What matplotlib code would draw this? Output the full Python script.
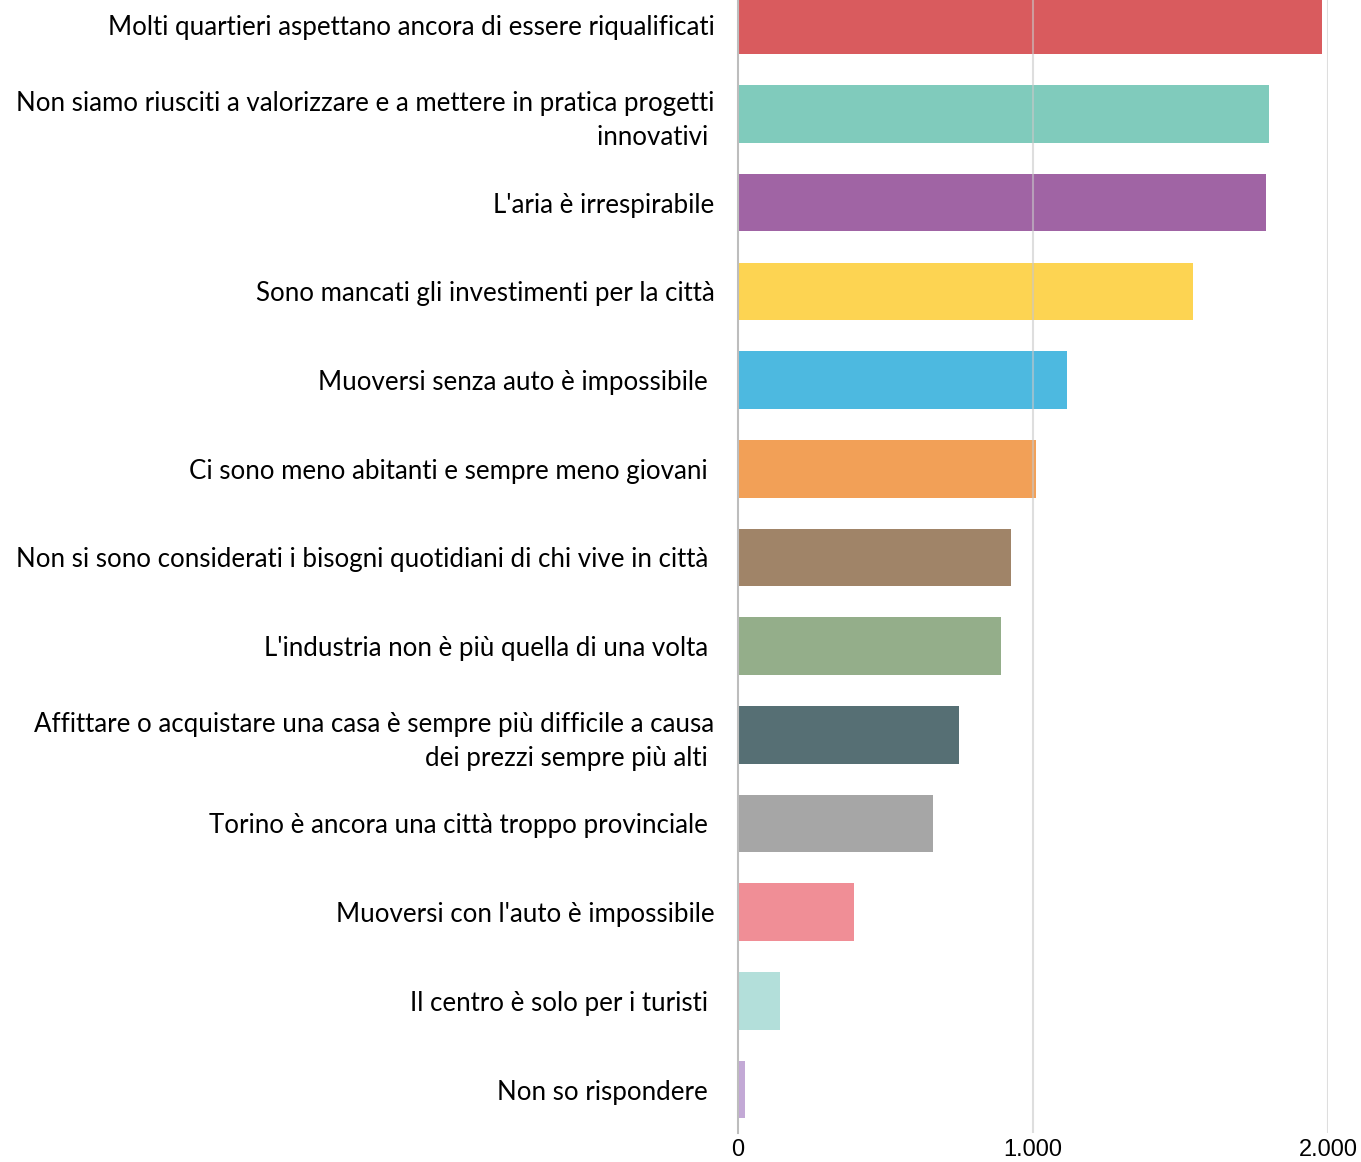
import matplotlib
matplotlib.use("Agg")
import matplotlib.pyplot as plt

categories = [
    "Molti quartieri aspettano ancora di essere riqualificati",
    "Non siamo riusciti a valorizzare e a mettere in pratica progetti\ninnovativi ",
    "L'aria è irrespirabile",
    "Sono mancati gli investimenti per la città",
    "Muoversi senza auto è impossibile ",
    "Ci sono meno abitanti e sempre meno giovani ",
    "Non si sono considerati i bisogni quotidiani di chi vive in città ",
    "L'industria non è più quella di una volta ",
    "Affittare o acquistare una casa è sempre più difficile a causa\ndei prezzi sempre più alti ",
    "Torino è ancora una città troppo provinciale ",
    "Muoversi con l'auto è impossibile",
    "Il centro è solo per i turisti ",
    "Non so rispondere ",
]
values = [1980, 1800, 1790, 1542, 1115, 1010, 925, 892, 749, 661, 393, 142, 24]
colors = ["#d95b5e", "#80cbbc", "#a064a4", "#fdd452", "#4db9e0", "#f2a057",
          "#a08468", "#94ae8a", "#566f74", "#a6a6a6", "#f08e96", "#b3dfda", "#c3a9d6"]
xticks = [0, 1000, 2000]
xticklabels = ["0", "1.000", "2.000"]

fig = plt.figure(figsize=(13.61, 11.62), dpi=100)
ax = fig.add_axes([738/1361, 29/1162, (1328-738)/1361, 1133/1162])
ypos = list(range(len(categories)))
ax.barh(ypos, values, height=0.65, color=colors, zorder=2)
ax.set_xlim(0, 2000)
ax.set_ylim(12.49, -0.285)
ax.set_yticks(ypos)
ax.set_yticklabels(categories, fontsize=18.6, family=["Lato", "DejaVu Sans"],
                   fontweight="normal", color="#000000", linespacing=1.45)
ax.tick_params(axis="y", length=0, pad=17)
ax.set_xticks(xticks)
ax.set_xticklabels(xticklabels, fontsize=17, family=["Liberation Sans Narrow", "Liberation Sans", "DejaVu Sans"],
                   color="#000000")
ax.tick_params(axis="x", length=0, pad=4)
for x in [1000, 2000]:
    ax.axvline(x, color="#c8c8c8", lw=1.5, alpha=0.6, zorder=3)
for s in ["top", "right", "bottom"]:
    ax.spines[s].set_visible(False)
ax.spines["left"].set_color("#bdbdbd")
ax.spines["left"].set_linewidth(1.5)
ax.spines["left"].set_zorder(4)
fig.savefig("out.png", dpi=100)
